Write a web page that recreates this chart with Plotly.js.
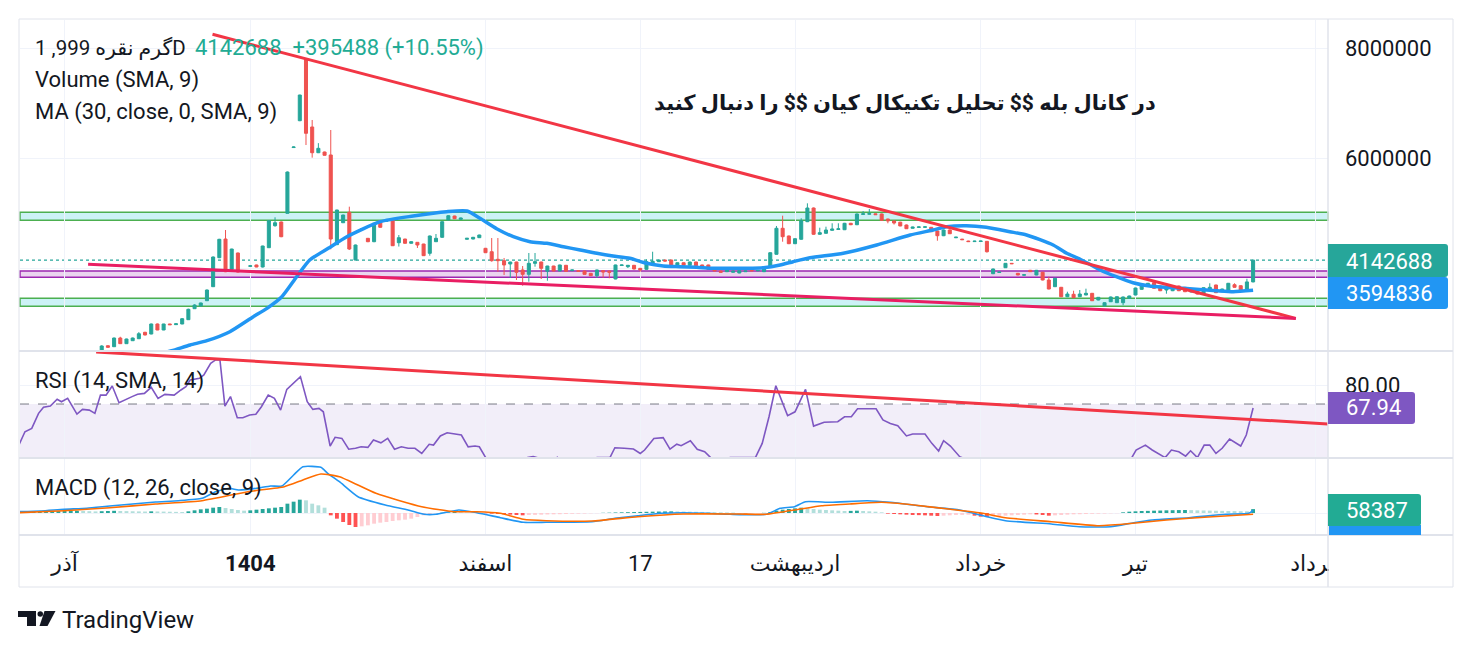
<!DOCTYPE html>
<html><head><meta charset="utf-8">
<script src="https://cdn.plot.ly/plotly-3.0.1.min.js"></script>
<style>html,body{margin:0;padding:0;background:#fff;}#chart{width:1473px;height:653px;}</style>
</head><body><div id="chart"></div>
<script>
// ---------- DATA (prices in thousands) ----------
const tickIdx = [-6, 24, 62, 87, 112, 142, 167, 196];
const tickLabels = ['آذر', '<b>1404</b>', 'اسفند', '17', 'اردیبهشت', 'خرداد', 'تیر', 'مرداد'];
const priceTicks = [4000000, 6000000, 8000000];
const priceTickText = ['', '6000000', '8000000'];

const openK = [2496,2587,2569,2727,2624,2678,2714,2831,2800,2982,
2873,2982,2970,2982,3060,3260,3309,3405,3660,4187,
4527,3976,4273,3940,4030,4055,4018,4369,4769,4836,
4994,6190,6678,7795,6564,6096,6109,6055,4424,4823,
5013,4145,4700,4540,4478,4860,4850,4873,4460,4527,
4449,4467,4436,4267,4478,4558,4873,4945,4885,4522,
4527,4551,4358,4296,4158,4133,4073,4109,3964,3885,
4085,4109,3940,4036,3945,4049,3951,3951,3945,3903,
3860,3951,3945,3800,4045,4024,4049,3994,3976,4055,
4115,4145,4145,4024,4096,4049,4109,4055,4055,3988,
3945,3933,3922,3909,3933,3955,3948,3933,4013,4249,
4722,4582,4442,4522,4842,5091,4613,4631,4685,4700,
4696,4813,4787,4975,4978,4985,4982,4891,4855,4833,
4782,4722,4738,4740,4740,4673,4587,4691,4550,4525,
4490,4480,4482,4485,3896,3918,4005,4085,3903,3870,
3958,3873,3922,3782,3660,3649,3478,3522,3478,3509,
3540,3418,3309,3387,3369,3369,3449,3509,3612,3685,
3733,3673,3600,3587,3673,3649,3564,3612,3540,3612,
3691,3569,3600,3696,3678,3612,3747];
const highK = [2595,2595,2735,2750,2715,2735,2835,2840,2990,2990,
2985,2985,2995,3090,3260,3340,3370,3610,4210,4530,
4691,4350,4280,3960,4045,4060,4405,4870,4922,4845,
5755,6210,7150,7800,6691,6270,6115,6509,5060,4970,
5115,4425,4715,4545,4820,4870,4870,4880,4600,4530,
4485,4470,4440,4590,4618,4850,4960,4950,4915,4545,
4565,4605,4365,4545,4545,4182,4115,4115,4036,4273,
4273,4115,4040,4040,4060,4055,3970,3955,3950,3910,
3970,3955,3950,4060,4060,4055,4055,4000,4158,4296,
4150,4150,4150,4100,4100,4115,4115,4060,4060,3995,
3950,3970,3950,3955,3950,3960,3960,4030,4285,4764,
4951,4590,4540,4904,5176,5100,4733,4751,4813,4813,
4820,4820,4990,5036,5073,4990,4990,4895,4860,4840,
4790,4750,4752,4752,4745,4680,4700,4700,4565,4530,
4495,4495,4495,4490,3990,3930,4090,4090,3910,3882,
3965,3965,3930,3842,3820,3655,3569,3587,3600,3624,
3545,3472,3375,3480,3485,3480,3497,3642,3715,3728,
3740,3680,3685,3680,3680,3655,3618,3618,3648,3722,
3697,3624,3728,3722,3684,3804,4150];
const lowK = [2485,2550,2565,2620,2620,2675,2710,2775,2795,2870,
2870,2965,2965,2978,3055,3255,3305,3400,3655,4180,
3925,3970,3920,3935,4025,4015,4010,4365,4751,4560,
4990,6185,6670,6236,6006,6090,6045,4340,4420,4820,
4327,4140,4695,4470,4470,4735,4845,4400,4390,4445,
4445,4364,4220,4224,4475,4550,4870,4890,4880,4518,
4522,4545,4275,4115,3933,3873,3818,3782,3678,3751,
4024,3800,3769,3940,3940,3935,3945,3935,3880,3855,
3818,3824,3813,3795,4040,4000,3975,3933,3970,4050,
4110,4120,4020,4020,4045,4045,4040,4020,3970,3940,
3915,3928,3918,3905,3930,3945,3945,3930,4010,4245,
4478,4435,4435,4515,4835,4605,4605,4625,4680,4695,
4690,4780,4780,4970,4972,4965,4860,4813,4790,4760,
4710,4718,4733,4735,4655,4496,4580,4618,4545,4510,
4475,4475,4478,4280,3890,3912,4000,4072,3868,3865,
3928,3868,3775,3612,3655,3470,3470,3455,3472,3505,
3400,3412,3304,3382,3364,3322,3444,3503,3606,3680,
3625,3580,3533,3580,3580,3562,3558,3520,3535,3606,
3545,3563,3594,3642,3569,3606,3740];
const closeK = [2582,2558,2727,2624,2709,2727,2805,2782,2982,2873,
2982,2969,2985,3078,3249,3327,3364,3600,4200,4522,
3933,4345,3927,3950,4040,4018,4400,4860,4823,4569,
5745,6200,7145,6449,6096,6176,6049,4527,5054,4963,
4345,4418,4709,4478,4813,4740,4862,4405,4551,4449,
4478,4418,4224,4582,4540,4842,4951,4896,4909,4540,
4558,4600,4278,4133,4133,4055,4109,3922,3885,4085,
4115,3994,4036,3945,4055,3940,3964,3940,3885,3860,
3964,3927,3922,4055,4055,4049,3982,3964,4115,4122,
4145,4127,4024,4096,4049,4109,4042,4024,3976,3945,
3922,3964,3945,3951,3945,3948,3955,4024,4278,4722,
4569,4442,4533,4860,5091,4613,4642,4691,4709,4712,
4813,4787,4982,4985,4988,4970,4867,4855,4818,4764,
4714,4745,4747,4748,4660,4587,4691,4623,4560,4515,
4480,4488,4490,4296,3982,3925,4085,4078,3873,3877,
3933,3958,3782,3618,3813,3478,3527,3460,3527,3540,
3405,3467,3369,3473,3478,3473,3491,3636,3709,3722,
3631,3587,3649,3673,3587,3569,3612,3527,3642,3649,
3551,3618,3722,3649,3600,3747,4142.688];

// MA (30, SMA 9) read at points
const maIdx = [8.0,11.3,14.3,17.0,20.7,24.5,26.7,29.1,31.5,33.6,36.6,39.6,45.0,50.3,55.7,59.0,61.1,63.8,66.5,69.2,71.9,74.6,77.3,80.0,82.6,85.3,88.0,90.7,93.4,96.1,98.8,101.5,104.2,106.9,109.6,111.7,114.4,119.8,125.2,130.6,134.3,136.5,139.7,142.9,146.7,149.4,153.7,155.9,158.0,161.3,163.9,166.6,169.3,174.7,180.1,182.8,186];
const maK = [2400,2496,2600,2678,2842,3115,3267,3478,3842,4145,4358,4569,4842,4945,5024,5036,4904,4714,4569,4478,4449,4387,4327,4267,4218,4176,4085,4036,4024,4013,3995,3995,3995,4006,4055,4115,4187,4267,4418,4600,4691,4751,4769,4740,4660,4600,4418,4267,4164,3964,3842,3733,3673,3631,3587,3569,3594.836];

// RSI (14)
const rsiX = [-13.5,-12.4,-11.3,-10.2,-9.4,-8.3,-7.2,-6.5,-5.5,-4.0,-3.1,-2.0,-1.1,-0.2,0.7,1.7,2.8,3.9,4.9,5.8,6.9,8.0,9.1,10.2,11.7,12.8,13.6,14.3,15.8,16.5,17.6,18.4,19.1,19.9,20.8,21.9,22.8,23.9,24.9,25.8,26.9,27.9,28.9,29.9,31.0,32.1,33.2,34.1,35.1,35.8,36.9,37.7,38.8,39.9,41.0,41.9,43.0,43.9,45.1,46.2,47.3,48.4,49.5,50.6,51.7,52.9,53.6,54.7,55.8,56.9,58.1,59.2,60.3,61.0,62.1,63.5,65,67,68.8,69.7,70.7,72,73.6,75,77,79,80,82.1,82.9,84.4,85.9,87.0,87.7,89.2,90.7,91.8,92.9,93.6,95.1,96.2,97.4,98.5,100,101.5,103,105.6,106.7,107.8,108.9,110.8,112.0,113.7,115.0,116.7,118.9,120.0,121.1,122.1,125.1,126.2,127.4,128.6,130.0,131.0,133.0,134.1,135.2,136.0,137.1,138.6,139.3,141,143,146,150,154,158,162,164.5,166.4,167.1,168.6,169.7,171.8,172.8,174.0,175.1,175.9,177.0,178.1,179.0,180.0,181.0,182.2,183.1,184.0,184.9,186];
const rsiV = [47.5,55.4,57.2,65.1,68.3,68.9,72.5,71.2,73.0,64.7,67.2,66.8,65.1,74.7,74.7,79.5,70.7,72.5,73.9,75.1,75.6,78.8,73.0,75.1,74.7,77.4,79.1,82.6,83.5,85.3,91.4,93.2,93.2,68.9,73.9,62.8,62.8,64.2,64.6,68.6,74.7,73.0,66.8,77.7,80.9,84.4,71.2,67.2,67.7,65.9,47.9,52.5,51.9,46.2,46.7,47.5,47.2,51.1,49.6,51.9,46.2,47.5,46.7,46.7,44.0,48.8,48.4,53.2,54.9,54.2,53.7,47.5,47.9,47.5,41.4,37,35,38,41.8,42.3,41.5,38,42,38,37,39,41.8,41.8,47.0,46.7,46.3,44.0,45.8,51.9,52.3,46.3,48.9,48.1,50.7,46.2,44.9,41.4,39,41.8,41.8,41.8,49.3,63.3,79.6,63.9,65.9,77.7,58.4,60.4,60.7,63.3,63.3,67.5,67.5,61.6,59.8,58.6,53.2,54.2,54.2,49.3,45.3,50.7,47.9,42.3,41.4,36,30,32,30,26,27,32,36,41.8,45.8,48.4,45.8,41.8,45.8,44.9,42.6,45.4,41.8,48.4,48.4,44.0,46.7,51.6,49.6,47.9,53.7,67.94];

// MACD (12, 26, close, 9) in thousands
const macdX = [-13.5,-9.8,-6.1,-2.4,1.3,5.0,8.7,12.4,16.2,18.4,20.6,22.1,25.0,27.3,29.1,31.0,32.5,35.4,36.5,38.4,41.4,45.8,49.5,52.1,54.0,57.7,60.6,64.4,68.1,71.8,79.2,82.9,86.6,90.3,94.0,97.7,101.5,107.4,109.6,111.9,113.7,117.8,123.7,127.4,133.4,138.6,143.0,146.0,153.4,157.9,163.0,166.7,169.7,175.6,181.6,185.3,186];
const macdK = [19.5,30,55.5,70.5,105,135,165,184.5,220.5,319.5,370.5,345,370.5,405,405,570,694.5,685.5,595.5,469.5,244.5,120,45,-19.5,-19.5,45,4.5,-70.5,-139.5,-139.5,-130.5,-79.5,-40.5,-4.5,4.5,-4.5,-19.5,-19.5,70.5,94.5,169.5,160.5,184.5,160.5,94.5,45,-55.5,-115.5,-165,-205.5,-205.5,-145.5,-105,-70.5,-19.5,-4.5,40];
const signalX = [-13.5,-6.1,1.3,8.7,16.2,23.6,29.5,32.5,35.4,38.4,44.3,51.7,56.9,60.6,64.4,68.1,71.8,79.2,86.6,94.0,102.8,107.4,112.6,116.3,120.8,126.0,131.2,137.1,142.3,146.0,153.4,160.8,165.3,172.0,179.4,186];
const signalK = [4.5,34.5,79.5,135,184.5,319.5,394.5,495,585,544.5,295.5,94.5,19.5,19.5,-4.5,-94.5,-115.5,-120,-55.5,-15,-15,-19.5,55.5,109.5,135,160.5,120,55.5,-4.5,-70.5,-130.5,-190.5,-165,-105,-55.5,-18];
const histStart = -13;
const histK = [15,18,20,22,24,26,28,30,32,34,
30,27,24, 27,30,33, 30,28,26,24,22, 25, 23,21,19,17,15,
25,40,55,65,80,90, 75,60,45,35, 40,50,60,70,80,90,
140,170,200, 190,140,115,80,
-35,-85,-135,-180,-210,-200,
-185,-160,-145,-135,-120,-110,-100,-85,-60,-35, -20,
-5,5,10, 15,10,8,5,2,
-5,-10,-15,-20,-25,-30,-35,
-30,-28,-25,-22,-20,-18,-15,-12,-10,-8,-5,-3,
3,5,8,10,12,14,16,18,20,22,24,25,
24,22,20,18,16,14,12,10,8,6,
-3,-5,-4,-2,2,
15,35,50,60,70,80,
70,60,50,45,40,35,30,32,35,30,25,20,10,
-10,-15,-20,-25,-30,-32,-35,-40,-45,
-40,-35,-30,-28,-25,
-40,-55,-60,
-50,-45,-40,-35,
-30,-25,-20,-22,-30,-40,
-35,-30,-25,-20,-18,-15,-12,-10,-8,-5,-3,
10,20,25,30,32,35,37,40,42,44,45,
43,40,38,36,34,32,30,28,27,26,
58.387];

// Drawn levels / trend lines (thousands for price)
const zoneLevelsK = [[4867, 5013], [3831, 3945], [3305, 3449]];
const trendPriceK = [[17.9, 8249, 192.9, 3084], [-2.2, 4067, 192.9, 3084]];
const trendRsi = [-0.9, 97.4, 198.1, 59.5];
const lastLabels = {price: '4142688', ma: '3594836', rsi: '67.94', hist: '58387'};

// ---------- BUILD ----------
const K = 1000;
const idx = openK.map((_, i) => i);
const histX = histK.map((_, i) => histStart + i);
const histColors = histK.map((h, i) => {
  const p = i > 0 ? histK[i - 1] : 0;
  if (h >= 0) return h >= p ? '#26a69a' : '#b2dfdb';
  return h <= p ? '#ff5252' : '#ffcdd2';
});

const L = 20, R = 1328, T = 20, B = 535;
const px = v => (v - L) / (R - L);
const py = v => (B - v) / (B - T);
const FONT = 'Roboto, "DejaVu Sans", sans-serif';

const traces = [
  {type: 'candlestick', x: idx, open: openK.map(v => v * K), high: highK.map(v => v * K),
   low: lowK.map(v => v * K), close: closeK.map(v => v * K), xaxis: 'x', yaxis: 'y',
   increasing: {line: {color: '#26a69a', width: 1}, fillcolor: '#26a69a'},
   decreasing: {line: {color: '#ef5350', width: 1}, fillcolor: '#ef5350'},
   whiskerwidth: 0, hoverinfo: 'skip', showlegend: false},
  {type: 'scatter', mode: 'lines', x: maIdx, y: maK.map(v => v * K), xaxis: 'x', yaxis: 'y',
   line: {color: '#2196f3', width: 3.5, shape: 'spline', smoothing: 0.6}, hoverinfo: 'skip', showlegend: false},
  {type: 'scatter', mode: 'lines', x: rsiX, y: rsiV, xaxis: 'x', yaxis: 'y2',
   line: {color: '#7e57c2', width: 1.6}, hoverinfo: 'skip', showlegend: false},
  {type: 'bar', x: histX, y: histK.map(v => v * K), xaxis: 'x', yaxis: 'y3', width: 0.62,
   marker: {color: histColors, line: {width: 0}}, hoverinfo: 'skip', showlegend: false},
  {type: 'scatter', mode: 'lines', x: macdX, y: macdK.map(v => v * K), xaxis: 'x', yaxis: 'y3',
   line: {color: '#2196f3', width: 1.6, shape: 'spline', smoothing: 0.5}, hoverinfo: 'skip', showlegend: false},
  {type: 'scatter', mode: 'lines', x: signalX, y: signalK.map(v => v * K), xaxis: 'x', yaxis: 'y3',
   line: {color: '#ff6d00', width: 1.6, shape: 'spline', smoothing: 0.5}, hoverinfo: 'skip', showlegend: false}
];

const shapes = [];
const zoneStyle = [['rgba(0,188,212,0.2)', '#4caf50'], ['rgba(156,39,176,0.2)', '#9c27b0'], ['rgba(0,188,212,0.2)', '#4caf50']];
zoneLevelsK.forEach((z, i) => shapes.push({type: 'rect', xref: 'paper', yref: 'y', x0: 0, x1: 1, y0: z[0] * K, y1: z[1] * K,
  fillcolor: zoneStyle[i][0], line: {color: zoneStyle[i][1], width: 1.5}, layer: 'below'}));
const lastClose = closeK[closeK.length - 1] * K;
shapes.push({type: 'line', xref: 'paper', yref: 'y', x0: 0, x1: 1, y0: lastClose, y1: lastClose,
  line: {color: '#26a69a', width: 1.2, dash: 'dot'}, layer: 'below'});
shapes.push({type: 'rect', xref: 'paper', yref: 'y2', x0: 0, x1: 1, y0: 30, y1: 70,
  fillcolor: 'rgba(126,87,194,0.1)', line: {width: 0}, layer: 'below'});
shapes.push({type: 'line', xref: 'paper', yref: 'y2', x0: 0, x1: 1, y0: 70, y1: 70,
  line: {color: '#787b86', width: 1, dash: 'dash'}, layer: 'below'});
const tlColors = ['#f23645', '#e91e63'];
trendPriceK.forEach((t, i) => shapes.push({type: 'line', xref: 'x', yref: 'y', x0: t[0], y0: t[1] * K, x1: t[2], y1: t[3] * K,
  line: {color: tlColors[i], width: 3}, layer: 'above'}));
shapes.push({type: 'line', xref: 'x', yref: 'y2', x0: trendRsi[0], y0: trendRsi[1], x1: trendRsi[2], y1: trendRsi[3],
  line: {color: '#f23645', width: 3}, layer: 'above'});
shapes.push({type: 'rect', xref: 'paper', yref: 'paper', x0: px(1329), x1: px(1370), y0: py(585), y1: py(537),
  fillcolor: '#ffffff', line: {width: 0}, layer: 'above'});
const frameCol = '#e0e3eb';
shapes.push({type: 'rect', xref: 'paper', yref: 'paper', x0: px(19), x1: px(1453), y0: py(587), y1: py(19),
  line: {color: frameCol, width: 1}, layer: 'above'});
shapes.push({type: 'line', xref: 'paper', yref: 'paper', x0: px(1328), x1: px(1328), y0: py(587), y1: py(19),
  line: {color: frameCol, width: 1.5}, layer: 'above'});
[351, 458, 535].forEach(v => shapes.push({type: 'line', xref: 'paper', yref: 'paper', x0: px(19), x1: px(1453), y0: py(v), y1: py(v),
  line: {color: frameCol, width: 2}, layer: 'above'}));
function labelBox(xr, yt, yb, color, r) {
  const w = xr - 1328, h = yb - yt;
  return {type: 'path', xref: 'paper', yref: 'paper', xsizemode: 'pixel', ysizemode: 'pixel',
    xanchor: px(1328), yanchor: py(yb),
    path: `M0,0 H${w - r} Q${w},0 ${w},${r} V${h - r} Q${w},${h} ${w - r},${h} H0 Z`,
    fillcolor: color, line: {width: 0}, layer: 'above'};
}
shapes.push(labelBox(1448, 244, 277, '#26a69a', 3));
shapes.push(labelBox(1448, 277, 309, '#2196f3', 3));
shapes.push(labelBox(1415, 392, 424, '#7e57c2', 3));
shapes.push({type: 'rect', xref: 'paper', yref: 'paper', x0: px(1329), x1: px(1421), y0: py(535), y1: py(525),
  fillcolor: '#2196f3', line: {width: 0}, layer: 'above'});
shapes.push(labelBox(1421, 494, 526, '#22ab94', 3));
const logoBase = {xref: 'paper', yref: 'paper', xsizemode: 'pixel', ysizemode: 'pixel', xanchor: px(18), yanchor: py(626),
  fillcolor: '#131722', line: {width: 0}, layer: 'above'};
shapes.push(Object.assign({type: 'path', path: 'M0,15 L18,15 L18,0 L9,0 L9,9 L0,9 Z'}, logoBase));
shapes.push(Object.assign({type: 'circle', x0: 19.5, x1: 25, y0: 9.3, y1: 14.8}, logoBase));
shapes.push(Object.assign({type: 'path', path: 'M26.5,15 L37.5,15 L29.5,0 L21.5,0 Z'}, logoBase));

function ann(text, x, y, opts) {
  return Object.assign({text, xref: 'paper', yref: 'paper', x: px(x), y: py(y), xanchor: 'left', yanchor: 'middle',
    showarrow: false, font: {family: FONT, size: 22, color: '#131722'}}, opts || {});
}
const annotations = [
  ann('گرم نقره 999, 1D', 33, 48, {font: {family: FONT, size: 20.5, color: '#131722'}}),
  ann('4142688\u00a0\u00a0+395488 (+10.55%)', 193, 48, {font: {family: FONT, size: 22, color: '#22ab94'}}),
  ann('Volume (SMA, 9)', 33, 80),
  ann('MA (30, close, 0, SMA, 9)', 33, 112),
  ann('در کانال بله $$ تحلیل تکنیکال کیان $$ را دنبال کنید', 1158, 103, {xanchor: 'right', font: {family: FONT, size: 21, color: '#131722', weight: 'bold'}}),
  ann('RSI (14, SMA, 14)', 33, 381),
  ann('MACD (12, 26, close, 9)', 33, 488),
  ann(lastLabels.price, 1344, 261, {font: {family: FONT, size: 22, color: '#ffffff'}}),
  ann(lastLabels.ma, 1344, 293, {font: {family: FONT, size: 22, color: '#ffffff'}}),
  ann(lastLabels.rsi, 1344, 408, {font: {family: FONT, size: 22, color: '#ffffff'}}),
  ann(lastLabels.hist, 1344, 510, {font: {family: FONT, size: 22, color: '#ffffff'}}),
  ann('TradingView', 60, 620, {font: {family: FONT, size: 24, color: '#131722'}})
];

const gridCol = '#f0f3fa';
const layout = {
  width: 1473, height: 653,
  margin: {l: L, r: 1473 - R, t: T, b: 653 - B, pad: 0},
  paper_bgcolor: '#ffffff', plot_bgcolor: '#ffffff',
  showlegend: false, hovermode: false, dragmode: false,
  font: {family: FONT, size: 22, color: '#131722'},
  xaxis: {range: [-13.2, 198.1], tickmode: 'array', tickvals: tickIdx, ticktext: tickLabels,
    showgrid: true, gridcolor: gridCol, gridwidth: 1, zeroline: false, showline: false, ticks: '',
    anchor: 'y3', rangeslider: {visible: false}, tickfont: {size: 22, color: '#131722'}, ticklabelstandoff: 13},
  yaxis: {domain: [py(351), 1], range: [2491000, 8509000], side: 'right', anchor: 'x', tickmode: 'array',
    tickvals: priceTicks, ticktext: priceTickText, showgrid: true, gridcolor: gridCol, zeroline: false, showline: false, ticks: '',
    tickfont: {size: 22, color: '#131722'}, ticklabelstandoff: 16},
  yaxis2: {domain: [py(458), py(351)], range: [41.6, 97.9], side: 'right', anchor: 'x', tickmode: 'array',
    tickvals: [80], ticktext: ['80.00'], showgrid: true, gridcolor: gridCol, zeroline: false, showline: false, ticks: '',
    tickfont: {size: 22, color: '#131722'}, ticklabelstandoff: 16},
  yaxis3: {domain: [0, py(458)], range: [-330000, 825000], side: 'right', anchor: 'x', tickmode: 'array',
    tickvals: [0], showticklabels: false, showgrid: true, gridcolor: gridCol, zeroline: false, showline: false, ticks: ''},
  shapes, annotations
};

Plotly.newPlot('chart', traces, layout, {displayModeBar: false, staticPlot: true});
</script>
</body></html>
